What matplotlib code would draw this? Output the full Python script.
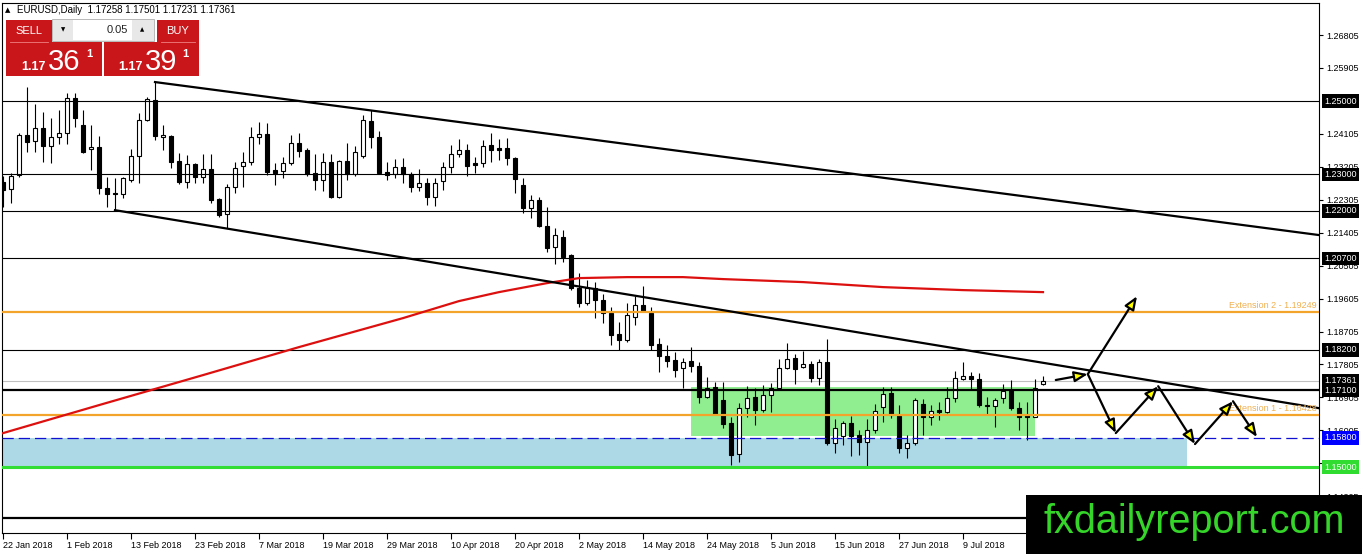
import numpy as np
import pandas as pd
import matplotlib
matplotlib.use("Agg")
import matplotlib.pyplot as plt
from matplotlib.patches import Rectangle, FancyArrowPatch
from matplotlib.transforms import blended_transform_factory

plt.rcParams['font.family'] = ['Liberation Sans', 'DejaVu Sans']

# EURUSD daily candles, 22 Jan 2018 onwards
opens = [1.2279, 1.2260, 1.2298, 1.2407, 1.2391, 1.2426, 1.2377, 1.2402, 1.2413, 1.2508,
         1.2435, 1.2369, 1.2374, 1.2262, 1.2249, 1.2246, 1.2284, 1.2350, 1.2448, 1.2503,
         1.2402, 1.2404, 1.2336, 1.2279, 1.2328, 1.2292, 1.2314, 1.2232, 1.2191, 1.2265,
         1.2323, 1.2333, 1.2402, 1.2410, 1.2312, 1.2309, 1.2331, 1.2385, 1.2366, 1.2303,
         1.2284, 1.2333, 1.2238, 1.2336, 1.2301, 1.2350, 1.2446, 1.2402, 1.2306, 1.2301,
         1.2320, 1.2301, 1.2265, 1.2276, 1.2238, 1.2282, 1.2320, 1.2355, 1.2366, 1.2331,
         1.2331, 1.2380, 1.2372, 1.2372, 1.2344, 1.2271, 1.2208, 1.2230, 1.2159, 1.2101,
         1.2128, 1.2079, 1.1989, 1.1948, 1.1989, 1.1956, 1.1921, 1.1864, 1.1847, 1.1910,
         1.1943, 1.1921, 1.1836, 1.1803, 1.1793, 1.1770, 1.1790, 1.1776, 1.1691, 1.1719,
         1.1683, 1.1620, 1.1536, 1.1661, 1.1691, 1.1656, 1.1697, 1.1716, 1.1770, 1.1798,
         1.1773, 1.1782, 1.1743, 1.1787, 1.1566, 1.1586, 1.1620, 1.1588, 1.1568, 1.1601,
         1.1664, 1.1703, 1.1640, 1.1552, 1.1566, 1.1672, 1.1637, 1.1656, 1.1650, 1.1689,
         1.1741, 1.1749, 1.1741, 1.1670, 1.1667, 1.1689, 1.1711, 1.1661, 1.1642, 1.1637,
         1.17258]
highs = [1.2295, 1.2303, 1.2413, 1.2538, 1.2492, 1.2470, 1.2454, 1.2476, 1.2522, 1.2522,
         1.2476, 1.2435, 1.2404, 1.2292, 1.2290, 1.2292, 1.2369, 1.2467, 1.2511, 1.2552,
         1.2435, 1.2407, 1.2358, 1.2353, 1.2331, 1.2355, 1.2355, 1.2235, 1.2273, 1.2333,
         1.2361, 1.2429, 1.2443, 1.2440, 1.2331, 1.2347, 1.2407, 1.2413, 1.2372, 1.2355,
         1.2358, 1.2355, 1.2339, 1.2385, 1.2377, 1.2462, 1.2476, 1.2418, 1.2333, 1.2342,
         1.2344, 1.2306, 1.2314, 1.2290, 1.2290, 1.2333, 1.2380, 1.2396, 1.2383, 1.2347,
         1.2394, 1.2413, 1.2396, 1.2399, 1.2347, 1.2290, 1.2243, 1.2238, 1.2210, 1.2153,
         1.2148, 1.2082, 1.2030, 1.2011, 1.2006, 1.1973, 1.1937, 1.1896, 1.1948, 1.1967,
         1.1994, 1.1937, 1.1853, 1.1833, 1.1814, 1.1798, 1.1828, 1.1787, 1.1746, 1.1732,
         1.1732, 1.1637, 1.1675, 1.1721, 1.1716, 1.1724, 1.1730, 1.1795, 1.1839, 1.1809,
         1.1817, 1.1790, 1.1795, 1.1850, 1.1631, 1.1626, 1.1640, 1.1601, 1.1631, 1.1672,
         1.1719, 1.1719, 1.1670, 1.1588, 1.1689, 1.1686, 1.1670, 1.1678, 1.1719, 1.1762,
         1.1787, 1.1760, 1.1757, 1.1691, 1.1689, 1.1727, 1.1738, 1.1678, 1.1678, 1.1741,
         1.17501]
lows = [1.2210, 1.2221, 1.2292, 1.2361, 1.2361, 1.2333, 1.2331, 1.2383, 1.2383, 1.2429,
        1.2359, 1.2312, 1.2246, 1.2210, 1.2202, 1.2235, 1.2279, 1.2276, 1.2446, 1.2394,
        1.2366, 1.2317, 1.2273, 1.2262, 1.2276, 1.2276, 1.2221, 1.2184, 1.2153, 1.2249,
        1.2265, 1.2325, 1.2383, 1.2298, 1.2271, 1.2290, 1.2325, 1.2347, 1.2295, 1.2257,
        1.2254, 1.2235, 1.2235, 1.2284, 1.2295, 1.2344, 1.2372, 1.2301, 1.2284, 1.2290,
        1.2276, 1.2251, 1.2254, 1.2216, 1.2213, 1.2257, 1.2303, 1.2347, 1.2295, 1.2303,
        1.2320, 1.2333, 1.2339, 1.2325, 1.2249, 1.2194, 1.2181, 1.2156, 1.2088, 1.2055,
        1.2060, 1.1984, 1.1937, 1.1943, 1.1907, 1.1894, 1.1833, 1.1820, 1.1842, 1.1889,
        1.1924, 1.1820, 1.1760, 1.1773, 1.1746, 1.1716, 1.1760, 1.1675, 1.1689, 1.1642,
        1.1607, 1.1506, 1.1514, 1.1637, 1.1616, 1.1650, 1.1650, 1.1711, 1.1768, 1.1727,
        1.1770, 1.1732, 1.1724, 1.1560, 1.1538, 1.1560, 1.1530, 1.1533, 1.1503, 1.1593,
        1.1623, 1.1634, 1.1538, 1.1525, 1.1560, 1.1588, 1.1616, 1.1629, 1.1648, 1.1678,
        1.1738, 1.1711, 1.1664, 1.1642, 1.1610, 1.1675, 1.1656, 1.1601, 1.1574, 1.1637,
        1.17231]
closes = [1.2257, 1.2295, 1.2407, 1.2388, 1.2426, 1.2377, 1.2402, 1.2413, 1.2508, 1.2454,
          1.2361, 1.2374, 1.2262, 1.2246, 1.2246, 1.2290, 1.2350, 1.2448, 1.2506, 1.2404,
          1.2407, 1.2333, 1.2279, 1.2328, 1.2292, 1.2314, 1.2230, 1.2189, 1.2265, 1.2317,
          1.2333, 1.2402, 1.2410, 1.2306, 1.2303, 1.2331, 1.2385, 1.2363, 1.2301, 1.2284,
          1.2333, 1.2238, 1.2336, 1.2301, 1.2361, 1.2448, 1.2402, 1.2303, 1.2298, 1.2320,
          1.2301, 1.2265, 1.2276, 1.2238, 1.2276, 1.2320, 1.2355, 1.2366, 1.2323, 1.2325,
          1.2377, 1.2366, 1.2366, 1.2344, 1.2287, 1.2208, 1.2230, 1.2159, 1.2098, 1.2134,
          1.2074, 1.1989, 1.1948, 1.1989, 1.1956, 1.1921, 1.1861, 1.1847, 1.1915, 1.1943,
          1.1926, 1.1833, 1.1803, 1.1790, 1.1765, 1.1787, 1.1776, 1.1691, 1.1716, 1.1645,
          1.1618, 1.1533, 1.1661, 1.1689, 1.1656, 1.1697, 1.1716, 1.1770, 1.1795, 1.1768,
          1.1782, 1.1743, 1.1787, 1.1566, 1.1607, 1.1620, 1.1586, 1.1568, 1.1601, 1.1653,
          1.1700, 1.1642, 1.1552, 1.1566, 1.1683, 1.1637, 1.1653, 1.1650, 1.1689, 1.1743,
          1.1749, 1.1741, 1.1670, 1.1667, 1.1683, 1.1708, 1.1661, 1.1637, 1.1637, 1.1716,
          1.17361]

# moving average (red), sampled at bar indices
ma_idx = [0, 12, 25, 37, 50, 57, 62, 68, 72, 78, 85, 90, 100, 110, 120, 130]
ma_val = [1.15929, 1.16694, 1.17514, 1.18279, 1.19071, 1.19536, 1.19781, 1.20027,
          1.20164, 1.20191, 1.20191, 1.20137, 1.20055, 1.19918, 1.19836, 1.19781]

# horizontal levels
black_levels = [1.25, 1.23, 1.22, 1.207, 1.182]
thick_levels = [1.171, 1.136]
ext_levels = [1.19249, 1.16428]
ext_names = ["Extension 2 - 1.19249", "Extension 1 - 1.16428"]
support_dash = 1.158
support_line = 1.150
last_price = 1.17361

# channel trend lines (bar index, price)
upper_line = ([19, 164.5], [1.2552, 1.2134])
lower_line = ([14, 164.5], [1.2202, 1.1661])

# boxes: (x0, x1, p_low, p_high)
support_zone = (-5, 148, 1.150, 1.158)
range_box = (86, 129, 1.1585, 1.1719)

# projected path arrows (x0, p0, x1, p1)
arrows = [(131.6, 1.1738, 135.6, 1.1754),
          (135.6, 1.1754, 141.75, 1.1967),
          (135.6, 1.1754, 139.1, 1.1593),
          (139.1, 1.1593, 144.4, 1.1721),
          (144.4, 1.1721, 149.0, 1.1563),
          (149.0, 1.1563, 153.75, 1.1680),
          (153.75, 1.1680, 156.75, 1.1582)]

# price scale labels (1.25005 sits under the 1.25000 tag, so it is not drawn)
y_ticks = [1.26805, 1.25905, 1.24105, 1.23205, 1.22305, 1.21405, 1.20505,
           1.19605, 1.18705, 1.17805, 1.16905, 1.16005, 1.15105, 1.14205]
tags = [(1.25, "1.25000", "black"), (1.23, "1.23000", "black"), (1.22, "1.22000", "black"),
        (1.207, "1.20700", "black"), (1.182, "1.18200", "black"),
        (1.17361, "1.17361", "black"), (1.171, "1.17100", "black"),
        (1.158, "1.15800", "#0000ff"), (1.15, "1.15000", "#2fdc2f")]

dates = pd.bdate_range("2018-01-22", periods=len(opens))

fig = plt.figure(figsize=(13.62, 5.54), dpi=100)
ax = fig.add_axes([2/1362, 21/554, 1317/1362, 530/554])
ax.set_xlim(-0.125, 164.5)
ax.set_ylim(1.1320, 1.2768)

# zones
ax.add_patch(Rectangle((support_zone[0], support_zone[2]), support_zone[1]-support_zone[0],
                       support_zone[3]-support_zone[2], fc="#add8e6", ec="none", zorder=0.5))
ax.add_patch(Rectangle((range_box[0], range_box[2]), range_box[1]-range_box[0],
                       range_box[3]-range_box[2], fc="#90ee90", ec="none", zorder=0.5))

ax.axhline(last_price, color="#c0c0c0", lw=0.8, zorder=0.8)

# candles
x = np.arange(len(opens))
o = np.array(opens); h = np.array(highs); l = np.array(lows); c = np.array(closes)
ax.vlines(x, l, h, color="black", lw=0.8, zorder=2)
up = c >= o
body = np.maximum(np.abs(c - o), 0.00006)
ax.bar(x[up], body[up], bottom=np.minimum(o, c)[up], width=0.62,
       color="white", edgecolor="black", lw=0.8, zorder=3)
ax.bar(x[~up], body[~up], bottom=np.minimum(o, c)[~up], width=0.62,
       color="black", edgecolor="black", lw=0.8, zorder=3)

# levels
for lv in black_levels:
    ax.axhline(lv, color="black", lw=0.8, zorder=4)
for lv in thick_levels:
    ax.axhline(lv, color="black", lw=1.6, zorder=4)
for lv, name in zip(ext_levels, ext_names):
    ax.axhline(lv, color="#f2a52a", lw=1.6, zorder=4)
    ax.annotate(name, xy=(1, lv), xycoords=("axes fraction", "data"), xytext=(-2, 6),
                textcoords="offset pixels", ha="right", va="center", fontsize=6.5,
                color="#f0b050", zorder=6)
ax.axhline(support_dash, color="#1010d0", lw=0.9, ls=(0, (9, 4)), zorder=4)
ax.axhline(support_line, color="#33dd33", lw=2.2, zorder=4)

ax.plot(ma_idx, ma_val, color="#dd1010", lw=1.6, zorder=5)
ax.plot(*upper_line, color="black", lw=1.6, zorder=5)
ax.plot(*lower_line, color="black", lw=1.6, zorder=5)

for x0, p0, x1, p1 in arrows:
    ax.add_patch(FancyArrowPatch((x0, p0), (x1, p1),
                                 arrowstyle="-|>,head_length=0.8,head_width=0.32",
                                 mutation_scale=10, shrinkA=0, shrinkB=0,
                                 fc="#ffff00", ec="black", lw=1.6, zorder=6))

# axes look
for s in ax.spines.values():
    s.set_linewidth(0.8)
ax.yaxis.tick_right()
ax.set_yticks(y_ticks)
ax.set_yticklabels([f"{v:.5f}" for v in y_ticks])
ax.tick_params(axis="y", length=3, width=0.8, pad=2.5, labelsize=6.5)
xt = list(range(0, len(opens), 8))
ax.set_xticks(xt)
ax.set_xticklabels([f"{dates[i].day} {dates[i]:%b %Y}" for i in xt], ha="left")
ax.tick_params(axis="x", length=4, width=0.8, pad=1.5, labelsize=6.5)

tr = blended_transform_factory(ax.transAxes, ax.transData)
for lv, txt, col in tags:
    ax.text(1.0 + 5/1317, lv, txt, transform=tr, ha="left", va="center", fontsize=6.5,
            color="white", clip_on=False, zorder=10,
            bbox=dict(boxstyle="square,pad=0.25", fc=col, ec="none"))

# overlay in pixel units: title, trade panel, watermark
ov = fig.add_axes([0, 0, 1, 1], zorder=20)
ov.set_xlim(0, 1362)
ov.set_ylim(554, 0)
ov.axis("off")
ov.patch.set_alpha(0)

ov.text(5, 10, "\u25b2", fontsize=5, va="center", family="DejaVu Sans")
ov.text(17, 10, "EURUSD,Daily  1.17258 1.17501 1.17231 1.17361", fontsize=7, va="center")

red = "#c9161b"
for bx0, bx1, lbl in [(6, 52, "SELL"), (157, 199, "BUY")]:
    ov.add_patch(Rectangle((bx0, 20), bx1 - bx0, 22, fc=red, ec="none"))
    ov.text((bx0 + bx1) / 2, 31, lbl, color="white", fontsize=8, ha="center", va="center")
    ov.plot([bx0 + 4, bx1 - 4], [41.5, 41.5], color="#f08080", lw=0.6)
ov.add_patch(Rectangle((6, 42), 96, 34, fc=red, ec="none"))
ov.add_patch(Rectangle((104, 42), 95, 34, fc=red, ec="none"))
ov.add_patch(Rectangle((52, 19), 102, 22, fc="#e8e8e8", ec="#b0b0b0", lw=0.6))
ov.add_patch(Rectangle((73, 20), 59, 20, fc="white", ec="none"))
ov.text(63, 30, "\u25bc", fontsize=4, ha="center", va="center", family="DejaVu Sans")
ov.text(142, 30, "\u25b2", fontsize=4, ha="center", va="center", family="DejaVu Sans")
ov.text(128, 30, "0.05", fontsize=8, ha="right", va="center", color="#222222")
for xs, big, sx in [(21, "36", 86), (118, "39", 182)]:
    ov.text(xs, 70, "1.17", color="white", fontsize=9, fontweight="bold", va="baseline")
    ov.text(xs + 27, 70, big, color="white", fontsize=21, va="baseline")
    ov.text(sx, 57, "1", color="white", fontsize=8, fontweight="bold", va="baseline")

ov.add_patch(Rectangle((1026, 495), 336, 59, fc="black", ec="none"))
ov.text(1194, 533, "fxdailyreport.com", color="#35d52a", fontsize=28.5,
        ha="center", va="baseline")

fig.savefig("out.png", dpi=100)
